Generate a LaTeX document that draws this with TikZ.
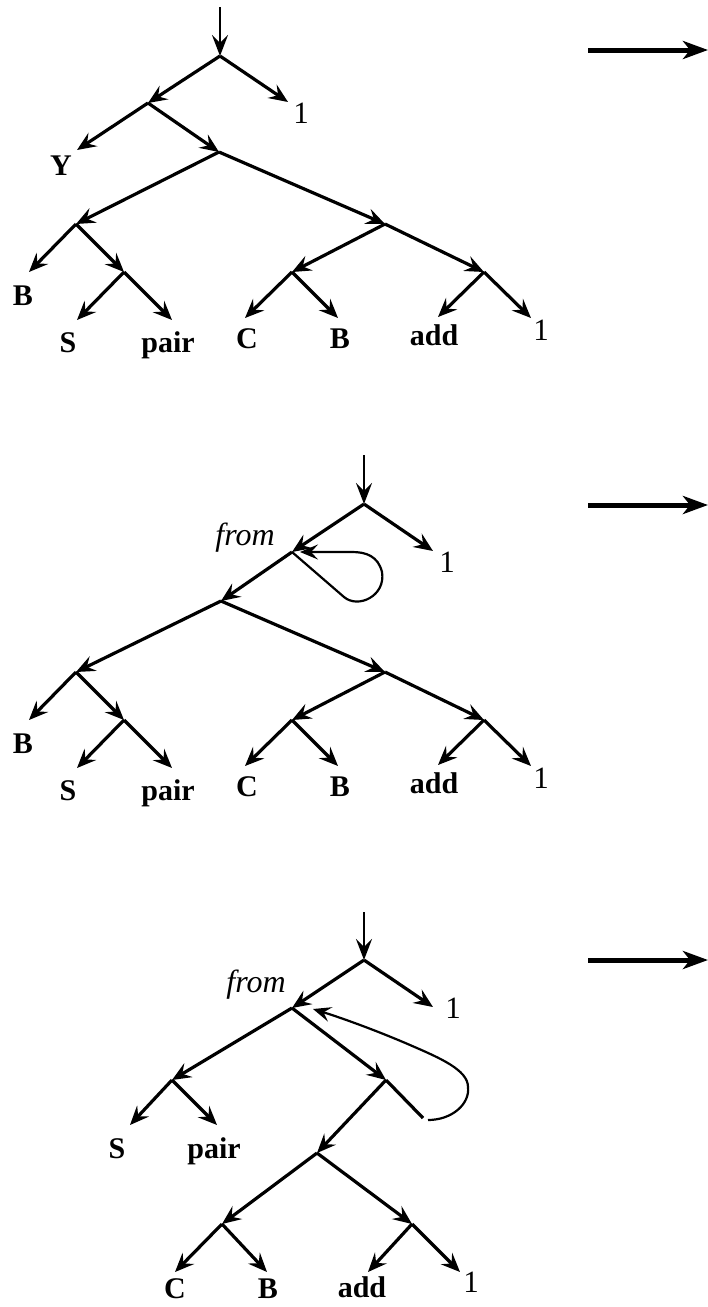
\documentclass[tikz,border=0pt]{standalone}
\usepackage{fontspec}
\setmainfont{Liberation Serif}
\usetikzlibrary{arrows.meta}
\begin{document}
\begin{tikzpicture}[x=1pt,y=-1pt,
  edge/.style={line width=3.2pt, -{Stealth[length=19pt,width=16pt,inset=7pt]}},
  vedge/.style={line width=2.4pt, -{Stealth[length=21pt,width=16pt,inset=8pt]}},
  plain/.style={line width=3.2pt},
  looparrow/.style={line width=2.2pt, -{Stealth[length=18pt,width=15pt,inset=7pt]}},
  lbl/.style={anchor=base, inner sep=0pt, font=\fontsize{30}{36}\selectfont\bfseries},
  num/.style={anchor=base, inner sep=0pt, font=\fontsize{31}{36}\selectfont},
  itl/.style={anchor=base, inner sep=0pt, font=\fontsize{32}{36}\selectfont\itshape},
  bigarrow/.style={line width=5pt, -{Stealth[length=25pt,width=18pt,inset=7pt]}}
]
\useasboundingbox (0,0) rectangle (708,1307);

% ---------------- Tree 1 ----------------
\coordinate (t1top) at (220,7);
\coordinate (r1) at (220,56);
\coordinate (a1) at (148,103);
\coordinate (n1) at (219,152);
\coordinate (l1) at (76,224);
\coordinate (m1) at (124,272);
\coordinate (rr1) at (385,224);
\coordinate (p1) at (292,272);
\coordinate (q1) at (484,272);
\coordinate (e1one) at (288,102);
\coordinate (e1Y) at (77,150);
\coordinate (e1B) at (29,272);
\coordinate (e1S) at (77,320);
\coordinate (e1pair) at (172,320);
\coordinate (e1C) at (245,318);
\coordinate (e1B2) at (338,318);
\coordinate (e1add) at (438,317);
\coordinate (e1one2) at (531,318);

\node[num] (x1one) at (301,123) {1};
\node[lbl] (x1Y) at (61,175) {Y};
\node[lbl] (x1B) at (23,305) {B};
\node[lbl] (x1S) at (68,352) {S};
\node[lbl] (x1pair) at (168,352) {pair};
\node[lbl] (x1C) at (247,348) {C};
\node[lbl] (x1B2) at (340,348) {B};
\node[lbl] (x1add) at (434,345) {add};
\node[num] (x1one2) at (541,340) {1};

\draw[vedge] (t1top) -- (r1);
\draw[edge] (r1) -- (a1);
\draw[edge] (r1) -- (e1one);
\draw[edge] (a1) -- (e1Y);
\draw[edge] (a1) -- (n1);
\draw[edge] (n1) -- (l1);
\draw[edge] (n1) -- (rr1);
\draw[edge] (l1) -- (e1B);
\draw[edge] (l1) -- (m1);
\draw[edge] (m1) -- (e1S);
\draw[edge] (m1) -- (e1pair);
\draw[edge] (rr1) -- (p1);
\draw[edge] (rr1) -- (q1);
\draw[edge] (p1) -- (e1C);
\draw[edge] (p1) -- (e1B2);
\draw[edge] (q1) -- (e1add);
\draw[edge] (q1) -- (e1one2);

\coordinate (h1a) at (588,50);
\coordinate (h1b) at (708,50);
\draw[bigarrow] (h1a) -- (h1b);

% ---------------- Tree 2 ----------------
\coordinate (t2top) at (364,455);
\coordinate (r2) at (364,504);
\coordinate (f2) at (292,552);
\coordinate (n2) at (221,601);
\coordinate (l2) at (76,672);
\coordinate (m2) at (124,720);
\coordinate (rr2) at (385,672);
\coordinate (p2) at (292,720);
\coordinate (q2) at (484,720);
\coordinate (e2one) at (433,551);
\coordinate (e2B) at (29,720);
\coordinate (e2S) at (77,768);
\coordinate (e2pair) at (172,768);
\coordinate (e2C) at (245,766);
\coordinate (e2B2) at (338,766);
\coordinate (e2add) at (438,765);
\coordinate (e2one2) at (531,766);
\coordinate (lp2a) at (344,597);
\coordinate (lp2b) at (382,572);
\coordinate (lp2c) at (352,552);

\node[itl] (x2from) at (245,545) {from};
\node[num] (x2one) at (447,572) {1};
\node[lbl] (x2B) at (23,753) {B};
\node[lbl] (x2S) at (68,800) {S};
\node[lbl] (x2pair) at (168,800) {pair};
\node[lbl] (x2C) at (247,796) {C};
\node[lbl] (x2B2) at (340,796) {B};
\node[lbl] (x2add) at (434,793) {add};
\node[num] (x2one2) at (541,788) {1};

\draw[vedge] (t2top) -- (r2);
\draw[edge] (r2) -- (f2);
\draw[edge] (r2) -- (e2one);
\draw[edge] (f2) -- (n2);
\draw[edge] (n2) -- (l2);
\draw[edge] (n2) -- (rr2);
\draw[edge] (l2) -- (e2B);
\draw[edge] (l2) -- (m2);
\draw[edge] (m2) -- (e2S);
\draw[edge] (m2) -- (e2pair);
\draw[edge] (rr2) -- (p2);
\draw[edge] (rr2) -- (q2);
\draw[edge] (p2) -- (e2C);
\draw[edge] (p2) -- (e2B2);
\draw[edge] (q2) -- (e2add);
\draw[edge] (q2) -- (e2one2);
\draw[looparrow, shorten >=8pt] (f2) -- (lp2a)
  .. controls (358,609) and (386,596) .. (lp2b)
  .. controls (378,556) and (366,552) .. (lp2c) -- (f2);

\coordinate (h2a) at (588,505);
\coordinate (h2b) at (708,505);
\draw[bigarrow] (h2a) -- (h2b);

% ---------------- Tree 3 ----------------
\coordinate (t3top) at (364,912);
\coordinate (r3) at (364,960);
\coordinate (f3) at (292,1008);
\coordinate (l3) at (172,1080);
\coordinate (t3) at (386,1080);
\coordinate (u3) at (317,1153);
\coordinate (v3) at (222,1224);
\coordinate (w3) at (412,1224);
\coordinate (e3one) at (433,1007);
\coordinate (e3S) at (130,1125);
\coordinate (e3pair) at (217,1125);
\coordinate (e3cut) at (423,1118);
\coordinate (e3C) at (175,1272);
\coordinate (e3B) at (267,1272);
\coordinate (e3add) at (368,1272);
\coordinate (e3one2) at (460,1272);
\coordinate (lp3a) at (428,1120);
\coordinate (lp3b) at (468,1087);
\coordinate (lp3c) at (313,1009);

\node[itl] (x3from) at (256,992) {from};
\node[num] (x3one) at (453,1018) {1};
\node[lbl] (x3S) at (117,1158) {S};
\node[lbl] (x3pair) at (214,1158) {pair};
\node[lbl] (x3C) at (175,1298) {C};
\node[lbl] (x3B) at (268,1298) {B};
\node[lbl] (x3add) at (362,1297) {add};
\node[num] (x3one2) at (471,1292) {1};

\draw[vedge] (t3top) -- (r3);
\draw[edge] (r3) -- (f3);
\draw[edge] (r3) -- (e3one);
\draw[edge] (f3) -- (l3);
\draw[edge] (f3) -- (t3);
\draw[edge] (l3) -- (e3S);
\draw[edge] (l3) -- (e3pair);
\draw[edge] (t3) -- (u3);
\draw[plain] (t3) -- (e3cut);
\draw[edge] (u3) -- (v3);
\draw[edge] (u3) -- (w3);
\draw[edge] (v3) -- (e3C);
\draw[edge] (v3) -- (e3B);
\draw[edge] (w3) -- (e3add);
\draw[edge] (w3) -- (e3one2);
\draw[looparrow] (lp3a)
  .. controls (452,1120) and (470,1104) .. (lp3b)
  .. controls (468,1070) and (440,1058) .. (410,1045)
  .. controls (380,1032) and (345,1019) .. (lp3c);

\coordinate (h3a) at (588,960);
\coordinate (h3b) at (708,960);
\draw[bigarrow] (h3a) -- (h3b);
\end{tikzpicture}
\end{document}
